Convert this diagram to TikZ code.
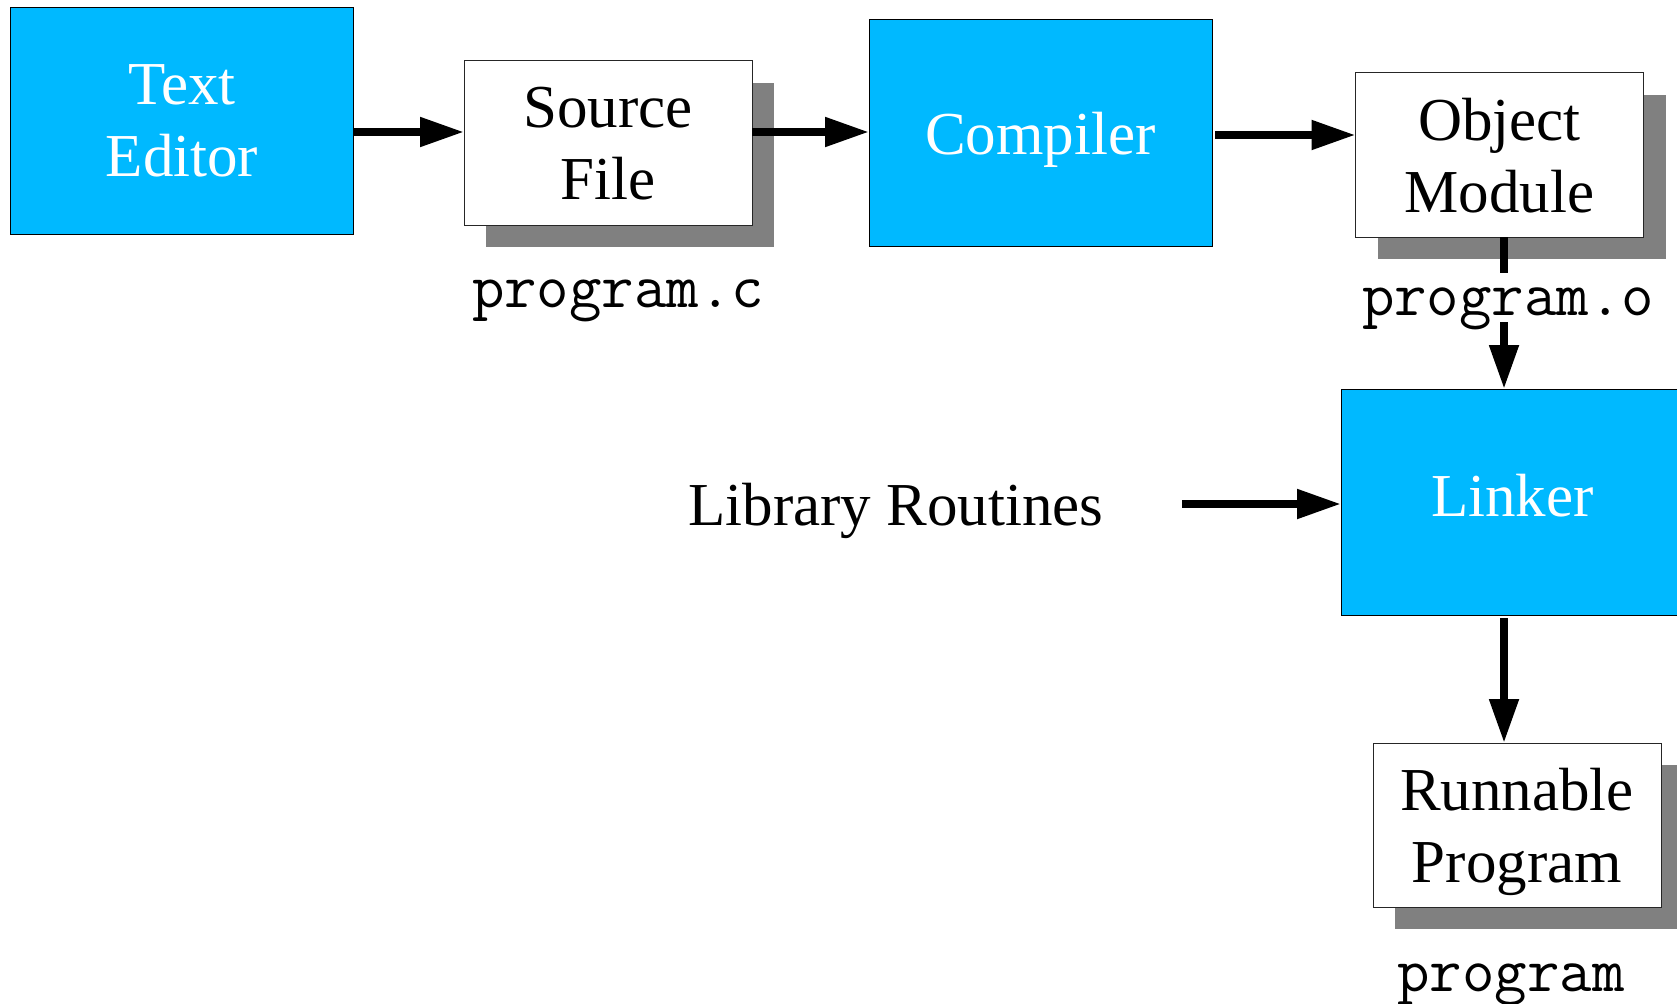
\documentclass[tikz,border=0pt]{standalone}
\usepackage{fontspec}
\setmainfont{Liberation Serif}
\usetikzlibrary{arrows.meta,shadows}
\definecolor{boxblue}{RGB}{0,185,255}
\definecolor{shadowgray}{RGB}{128,128,128}

\begin{document}
\begin{tikzpicture}[x=1pt,y=-1pt,
  every node/.style={inner sep=0pt, outer sep=0pt},
  boxtext/.style={align=center, text depth=0pt,
    font=\fontsize{61}{72}\selectfont},
  stage/.style={boxtext, draw=black, line width=1pt, fill=boxblue, text=white,
    minimum width=343pt, minimum height=226pt},
  artifact/.style={boxtext, draw=black!85, line width=1pt, fill=white, text=black,
    minimum width=288pt, minimum height=164pt,
    drop shadow={shadow xshift=22pt, shadow yshift=-22pt, fill=shadowgray, opacity=1}},
  fname/.style={font=\fontsize{63}{63}\ttfamily, anchor=base},
  flow/.style={line width=8pt, -{Triangle[length=44pt,width=28pt]}},
]
% page frame
\fill[white] (0,0) rectangle (1677,1003);
\useasboundingbox (0,0) rectangle (1677,1003);
\clip (0,0) rectangle (1677,1003);

% build stages and the files they produce
\node[stage]    (TE) at (182,121)    {Text\\Editor};
\node[artifact] (SF) at (608,143)    {Source\\File};
\node[stage]    (CP) at (1040.5,133) {Compiler};
\node[artifact] (OM) at (1499.5,155) {Object\\Module};
\node[stage, text depth=14pt] (LK) at (1512.5,502) {Linker};
\node[artifact, text depth=-6pt] (RP) at (1517,825) {Runnable\\Program};

\node[font=\fontsize{61}{72}\selectfont, anchor=base] (LR) at (896,525) {Library Routines};
\coordinate (libstart) at (1182,504);
\coordinate (spine) at (1504,0);

% flow between stages
\draw[flow] (TE.east |- 0,132) -- (SF.west |- 0,132);
\draw[flow] (SF.east |- 0,132) -- (CP.west |- 0,132);
\draw[flow, shorten <=3pt] (CP.east |- 0,135) -- (OM.west |- 0,135);
\draw[flow] (OM.south -| spine) -- (LK.north -| spine);
\draw[flow] (libstart) -- (LK.west |- libstart);
\draw[flow, shorten <=3pt] (LK.south -| spine) -- (RP.north -| spine);

% file names
\node[fname] (fc) at (618,307) {program.c};
\node[fname, fill=white, text height=42pt, text depth=7pt] (fo) at (1508,315) {program.o};
\node[fname] (fx) at (1511,991) {program};
\end{tikzpicture}
\end{document}
